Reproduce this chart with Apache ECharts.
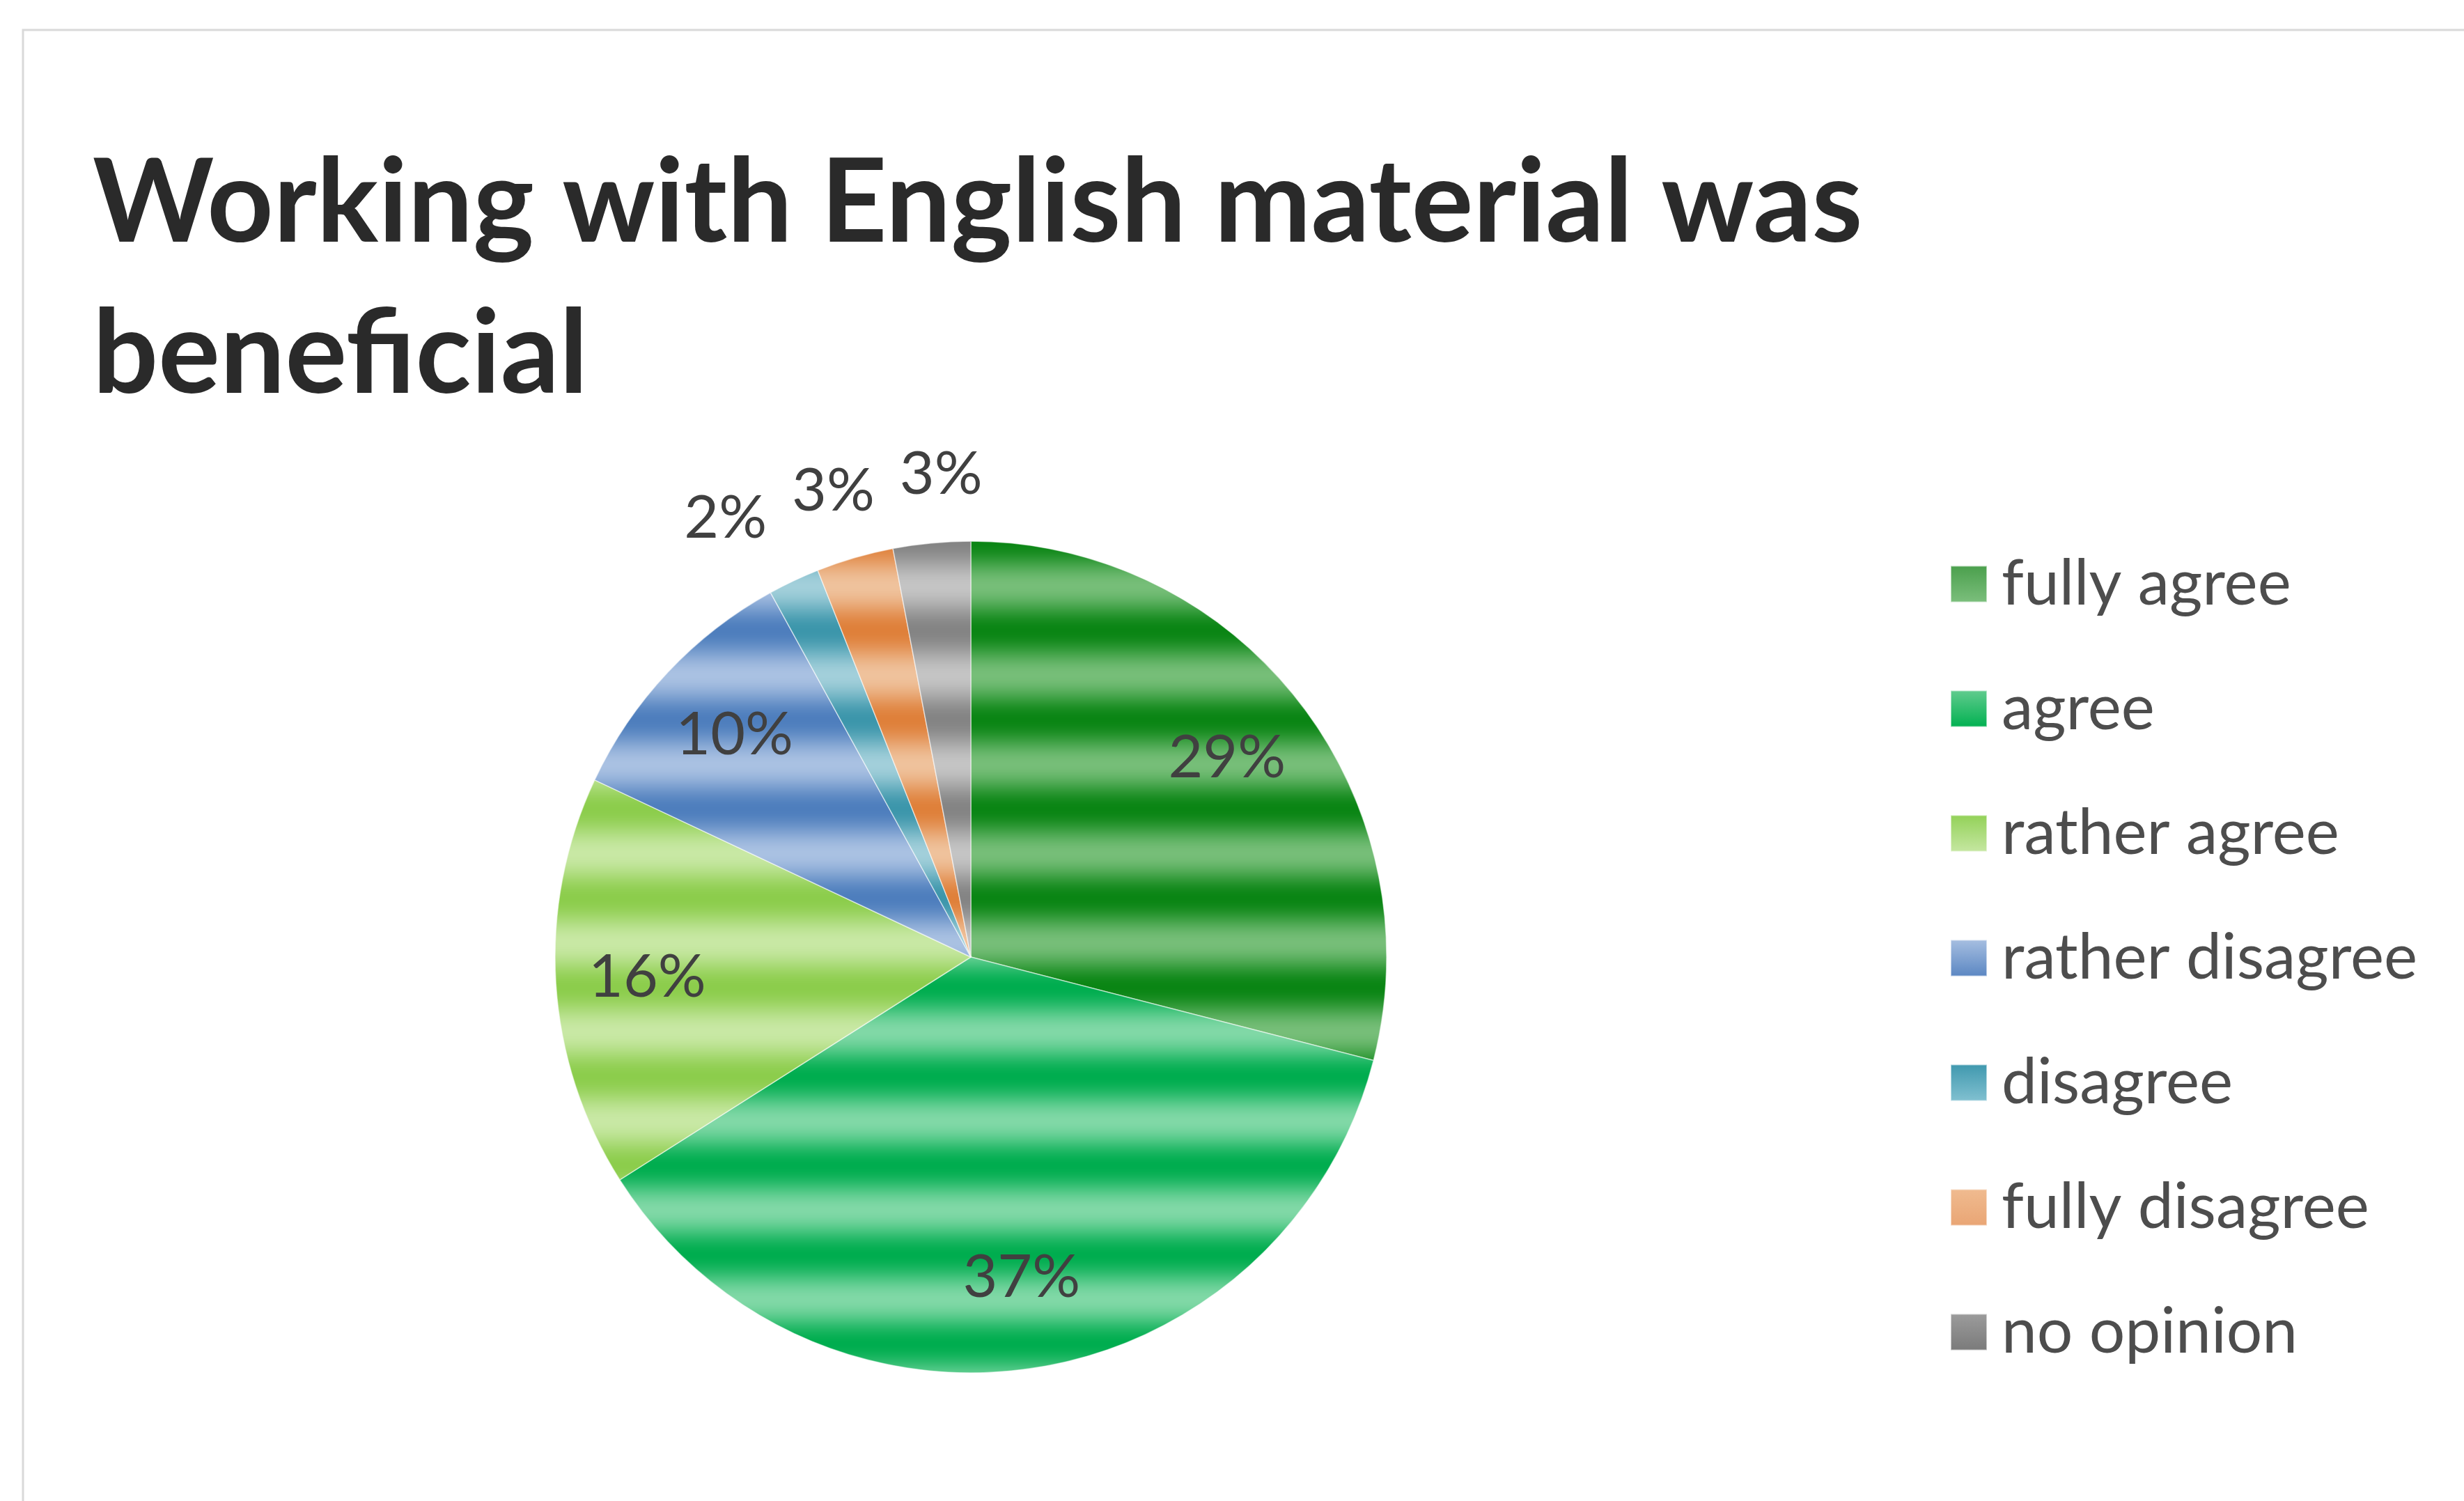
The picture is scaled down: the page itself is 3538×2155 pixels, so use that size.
<!DOCTYPE html>
<html>
<head>
<meta charset="utf-8">
<script src="https://cdn.jsdelivr.net/npm/echarts@6/dist/echarts.min.js"></script>
<style>
  html, body { margin: 0; padding: 0; background: #ffffff; }
  #chart { width: 3538px; height: 2155px; }
</style>
</head>
<body>
<div id="chart"></div>
<script>
// Survey answers and their share of respondents (%)
const categories = ['fully agree', 'agree', 'rather agree', 'rather disagree', 'disagree', 'fully disagree', 'no opinion'];
const shares = [29, 37, 16, 10, 2, 3, 3];
const titleLines = ['Working with English material was', 'beneficial'];

// Banded fill per slice: [dark band, light band]
const stripeColors = [
  ['#0a8514', '#76be78'],
  ['#00ad4f', '#80d8a6'],
  ['#8ccd4c', '#c8e8a4'],
  ['#4e7ebd', '#a9c1e2'],
  ['#3c96ab', '#a2cfda'],
  ['#df803a', '#efc29c'],
  ['#848484', '#c4c4c4']
];
// Legend swatches: [top, bottom]
const swatchColors = [
  ['#4a9f4c', '#7cbf7d'],
  ['#62cc8f', '#00b050'],
  ['#92d157', '#c6e7a2'],
  ['#a7bfe1', '#5a86c2'],
  ['#3f98ae', '#82c1d1'],
  ['#f0bb90', '#e9a574'],
  ['#9c9c9c', '#7a7a7a']
];

const STRIPE_PERIOD = 128;
const STRIPE_PHASE = 9;
const SMALL_SHARE = 5;  // slices below this get their label outside

function hexToRgb(h) {
  const n = parseInt(h.slice(1), 16);
  return [(n >> 16) & 255, (n >> 8) & 255, n & 255];
}

function stripePattern(dark, light) {
  const c = document.createElement('canvas');
  c.width = 8;
  c.height = STRIPE_PERIOD;
  const ctx = c.getContext('2d');
  const d = hexToRgb(dark), l = hexToRgb(light);
  for (let y = 0; y < STRIPE_PERIOD; y++) {
    const t = ((y - STRIPE_PHASE) / STRIPE_PERIOD) * 2 * Math.PI;
    const w = (1 - Math.cos(t)) / 2;
    const rgb = d.map((v, i) => Math.round(v + (l[i] - v) * w));
    ctx.fillStyle = 'rgb(' + rgb.join(',') + ')';
    ctx.fillRect(0, y, 8, 1);
  }
  return { image: c, repeat: 'repeat' };
}

const CENTER = [1394, 1374];
const R = 597;
const labelFont = { fontFamily: 'Lato', fontSize: 86, color: '#404040' };

const sliceData = categories.map((name, i) => ({
  name: name,
  value: shares[i],
  itemStyle: {
    color: stripePattern(stripeColors[i][0], stripeColors[i][1]),
    borderColor: 'rgba(255,255,255,0.55)',
    borderWidth: 1.5
  }
}));

function labelData(showFn) {
  return categories.map((name, i) => ({
    name: name,
    value: shares[i],
    label: { show: showFn(shares[i]) }
  }));
}

const labelRing = (radius, showFn, layout, extraLabel) => ({
  type: 'pie',
  center: CENTER,
  radius: radius,
  startAngle: 90,
  clockwise: true,
  silent: true,
  avoidLabelOverlap: false,
  itemStyle: { color: 'rgba(0,0,0,0)', borderWidth: 0 },
  label: Object.assign({ position: 'inside', formatter: '{c}%' }, labelFont, extraLabel || {}),
  labelLine: { show: false },
  labelLayout: layout,
  emphasis: { disabled: true },
  data: labelData(showFn)
});

const chart = echarts.init(document.getElementById('chart'), null, { renderer: 'canvas' });

chart.setOption({
  animation: false,
  backgroundColor: '#ffffff',
  graphic: [{
    type: 'rect',
    silent: true,
    shape: { x: 33, y: 43, width: 3700, height: 2300 },
    style: { fill: 'none', stroke: '#d9d9d9', lineWidth: 3 }
  }],
  title: {
    text: titleLines.join('\n'),
    left: 128,
    top: 180,
    textStyle: {
      fontFamily: 'Lato',
      fontWeight: 'bold',
      fontSize: 166,
      lineHeight: 217,
      color: '#2a2a2a'
    }
  },
  legend: {
    orient: 'vertical',
    left: 2795,
    top: 788,
    icon: 'rect',
    itemWidth: 52,
    itemHeight: 52,
    itemGap: 88,
    selectedMode: false,
    textStyle: {
      fontFamily: 'Lato',
      fontSize: 91,
      color: '#4d4d4d',
      padding: [0, 0, 0, 16]
    },
    data: categories.map((name, i) => ({
      name: name,
      itemStyle: {
        color: {
          type: 'linear', x: 0, y: 0, x2: 0, y2: 1,
          colorStops: [
            { offset: 0, color: swatchColors[i][0] },
            { offset: 1, color: swatchColors[i][1] }
          ]
        }
      }
    }))
  },
  series: [
    {
      type: 'pie',
      center: CENTER,
      radius: R,
      startAngle: 90,
      clockwise: true,
      silent: true,
      label: { show: false },
      labelLine: { show: false },
      emphasis: { disabled: true },
      data: sliceData
    },
    // labels of the larger slices, set inside the pie
    labelRing([328, R], v => v >= SMALL_SHARE, { hideOverlap: false }),
    // labels of the thin slices, set just outside the rim, hung left of
    // their anchor and spread sideways so they do not collide
    labelRing([621, 765], v => v < SMALL_SHARE,
      { hideOverlap: false, moveOverlap: 'shiftX' }, { minMargin: 36, offset: [-56, 0] })
  ]
});
</script>
</body>
</html>
